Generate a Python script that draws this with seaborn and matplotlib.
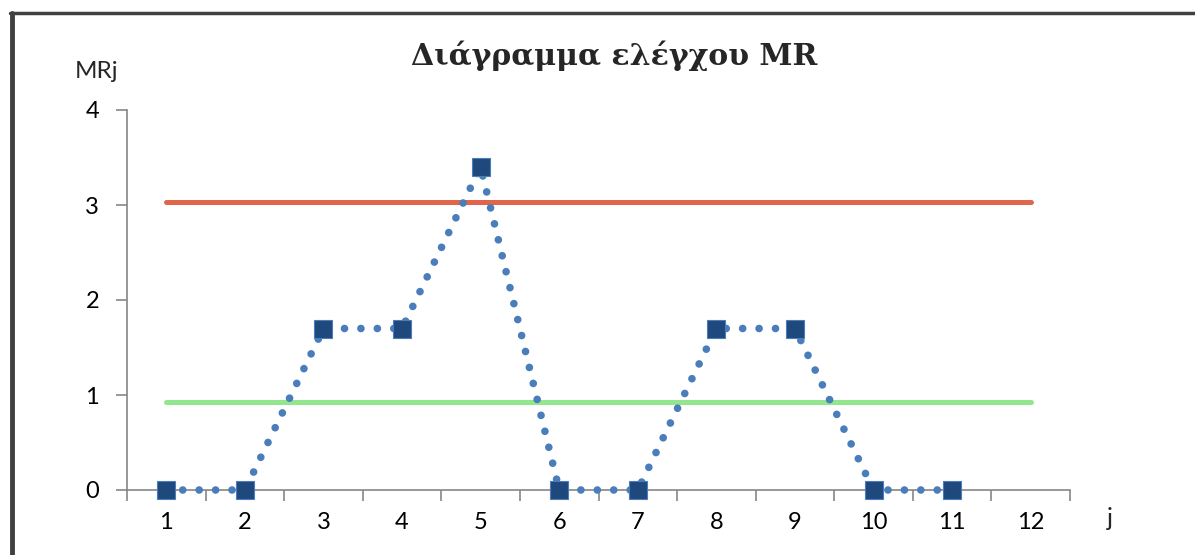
import matplotlib
matplotlib.use("Agg")
import matplotlib.pyplot as plt
import seaborn as sns
import pandas as pd
from matplotlib.lines import Line2D

# Data
categories = list(range(1, 13))
points_j = list(range(1, 12))
mr_values = [0, 0, 1.7, 1.7, 3.4, 0, 0, 1.7, 1.7, 0, 0]
ucl_value = 3.03
cl_value = 0.93
ucl_series = [ucl_value] * len(categories)
cl_series = [cl_value] * len(categories)
y_ticks = [0, 1, 2, 3, 4]
x_labels = [str(c) for c in categories]
title = "Διάγραμμα ελέγχου MR"
y_label = "MRj"
x_label = "j"

sns.set_theme(style="white")
plt.rcParams['font.family'] = ['Lato', 'DejaVu Sans']

fig = plt.figure(figsize=(11.95, 5.55), dpi=100)
ax = fig.add_axes([127/1195, 65/555, (1070-127)/1195, 380/555])

df_mr = pd.DataFrame({"j": points_j, "MR": mr_values})
df_ucl = pd.DataFrame({"j": categories, "v": ucl_series})
df_cl = pd.DataFrame({"j": categories, "v": cl_series})

sns.lineplot(data=df_ucl, x="j", y="v", ax=ax, color="#E0654B", linewidth=3.6,
             solid_capstyle="round", zorder=2)
sns.lineplot(data=df_cl, x="j", y="v", ax=ax, color="#92E68D", linewidth=3.6,
             solid_capstyle="round", zorder=2)
sns.lineplot(data=df_mr, x="j", y="MR", ax=ax, color="#4A7EBB", linewidth=5.5,
             linestyle=(0, (0.01, 2.14)), dash_capstyle="round", zorder=3,
             clip_on=False)
ax.plot(points_j, mr_values, linestyle="none", marker="s", markersize=13.5,
        markerfacecolor="#1F497D", markeredgecolor="#4A7EBB", markeredgewidth=0.8,
        zorder=4, clip_on=False)

ax.set_xlim(0.5, 12.5)
ax.set_ylim(0, 4)
ax.set_xlabel("")
ax.set_ylabel("")

# Category axis: ticks between categories, labels at centers
ax.set_xticks([c - 0.5 for c in categories] + [12.5])
ax.set_xticklabels([])
ax.set_xticks(categories, minor=True)
ax.set_xticklabels(x_labels, minor=True)
ax.tick_params(axis="x", which="major", direction="out", length=8, width=1.2,
               color="#868686", bottom=True)
ax.tick_params(axis="x", which="minor", length=0, labelsize=17, pad=16,
               labelcolor="black", bottom=True)
ax.set_yticks(y_ticks)
ax.set_yticklabels([str(t) for t in y_ticks])
ax.tick_params(axis="y", direction="out", length=8, width=1.2, color="#868686",
               labelsize=17, pad=12, left=True, labelcolor="black")

for s in ["top", "right"]:
    ax.spines[s].set_visible(False)
for s in ["left", "bottom"]:
    ax.spines[s].set_color("#868686")
    ax.spines[s].set_linewidth(1.2)
ax.grid(False)

fig.text(614/1195, 1 - 56/555, title, ha="center", va="center", fontsize=21.5,
         fontweight="bold", family=["DejaVu Serif"])
fig.text(97/1195, 1 - 71/555, y_label, ha="center", va="center", fontsize=17.5)
fig.text(1110/1195, 1 - 518/555, x_label, ha="center", va="center", fontsize=18)

# Chart frame (left and top edges visible)
fig.add_artist(Line2D([11.5/1195, 11.5/1195], [0, 1 - 12.5/555],
                      transform=fig.transFigure, color="#404040", linewidth=3.5))
fig.add_artist(Line2D([9.5/1195, 1.0], [1 - 12.5/555, 1 - 12.5/555],
                      transform=fig.transFigure, color="#404040", linewidth=2.5))

fig.savefig("out.png", dpi=100)
